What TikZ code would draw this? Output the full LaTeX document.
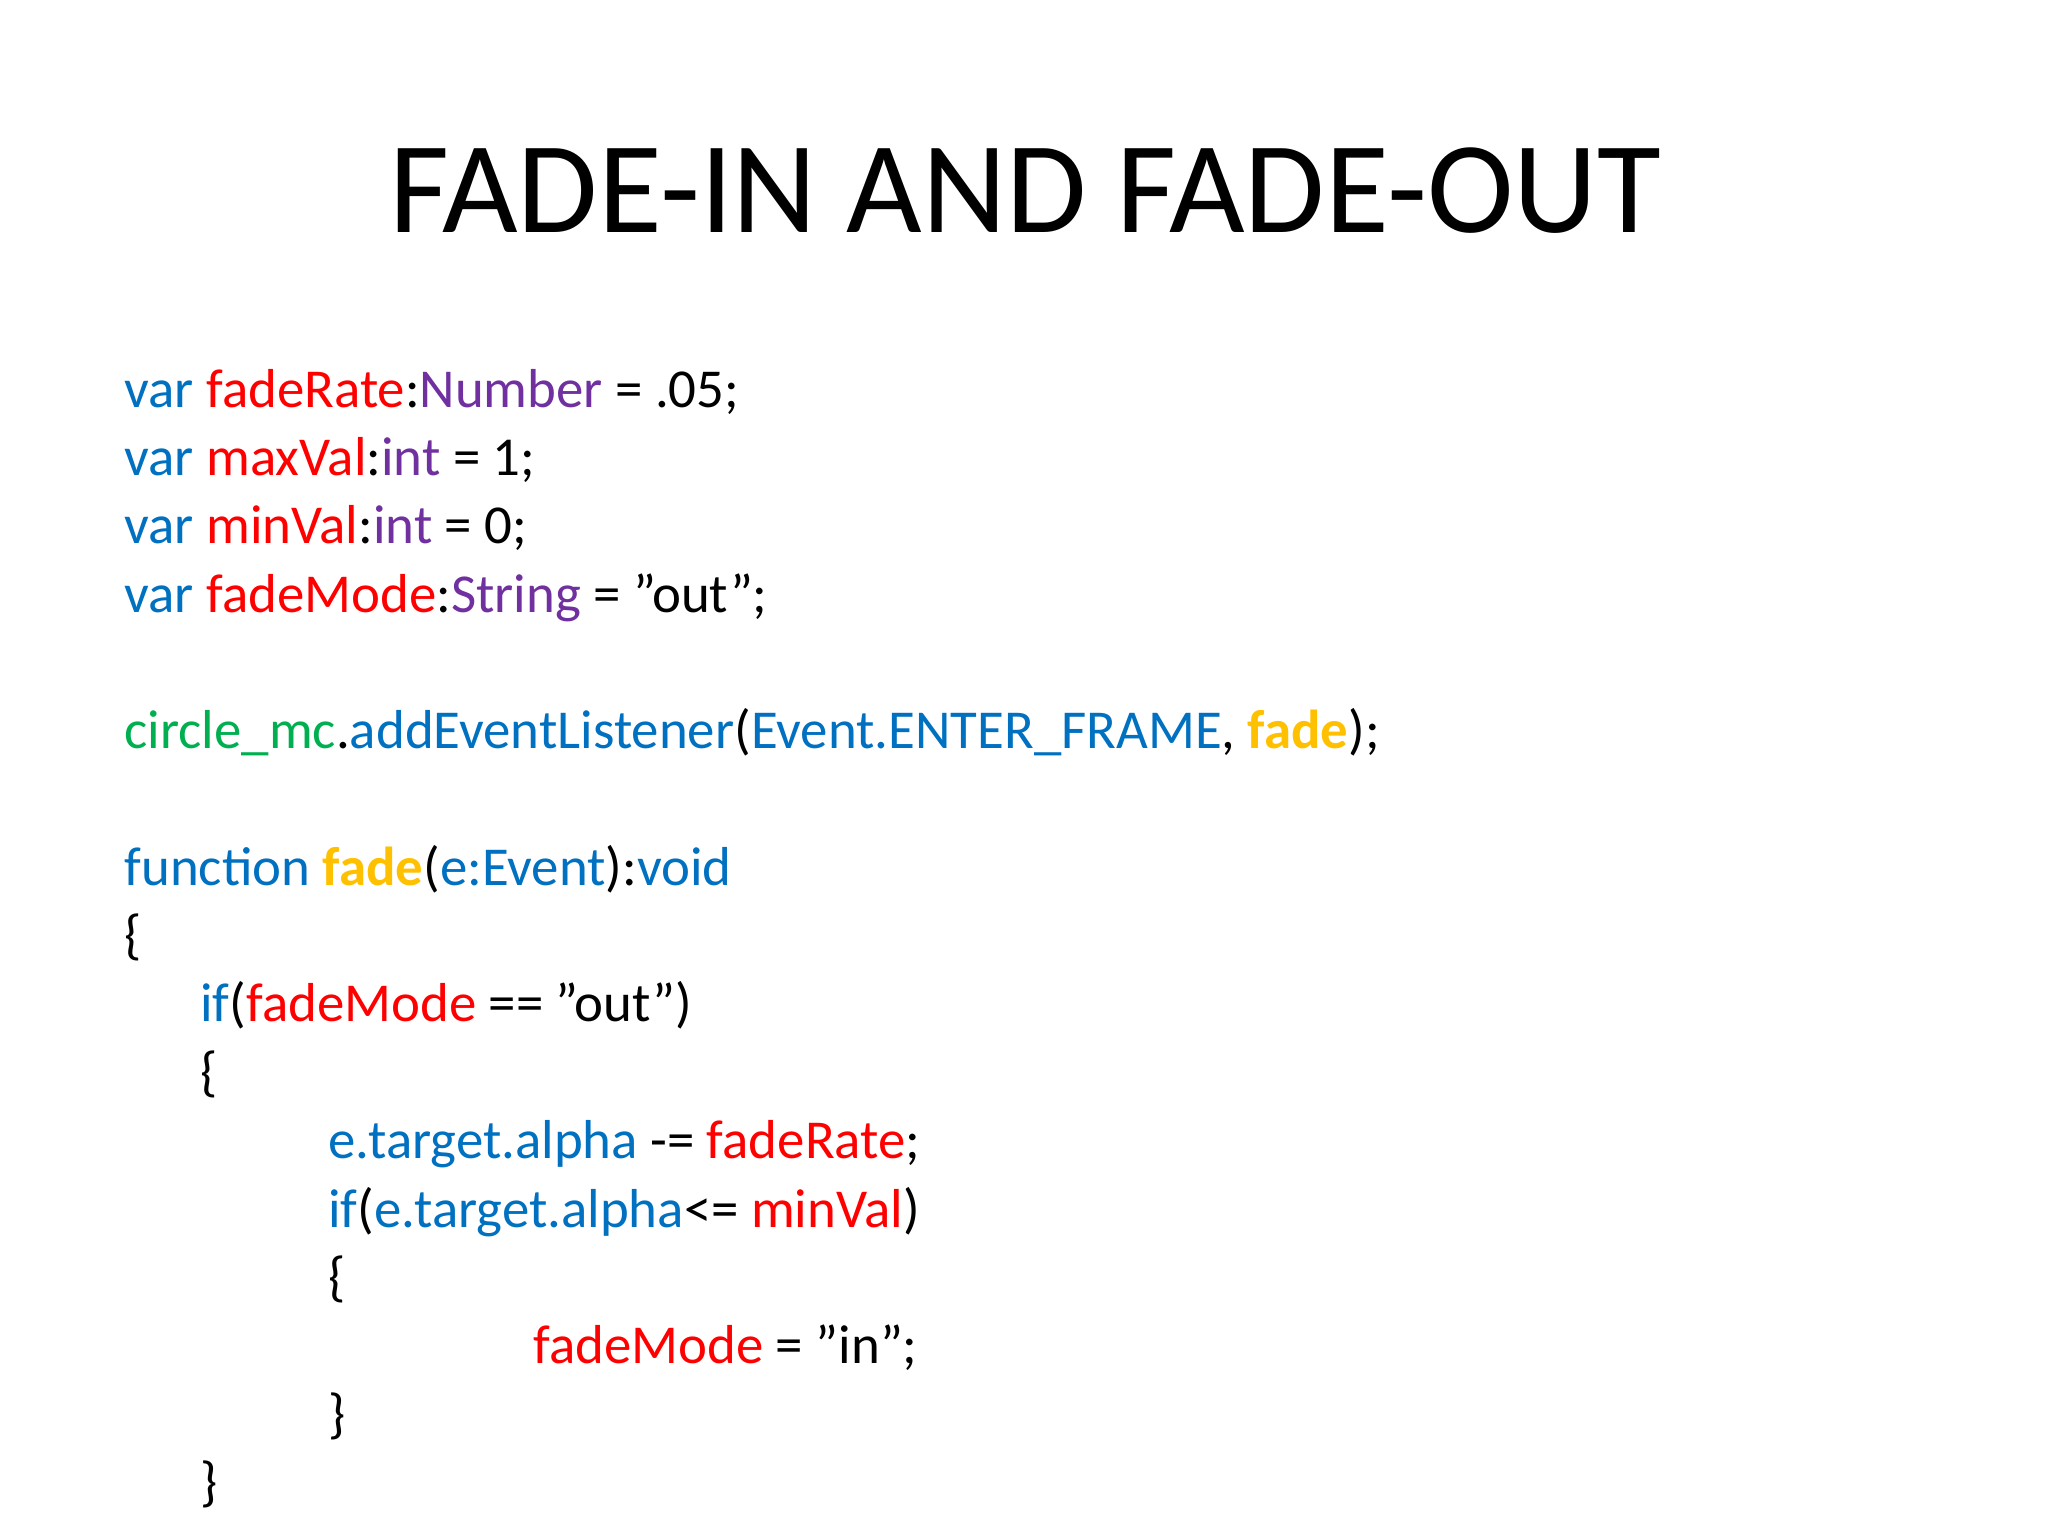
\documentclass[tikz,border=0pt]{standalone}
\usepackage{fontspec}
\setmainfont{Carlito}
\definecolor{kb}{RGB}{0,112,192}
\definecolor{kr}{RGB}{255,0,0}
\definecolor{kp}{RGB}{112,48,160}
\definecolor{kg}{RGB}{0,176,80}
\definecolor{ky}{RGB}{255,192,0}
\newcommand{\B}[1]{\textcolor{kb}{#1}}
\newcommand{\R}[1]{\textcolor{kr}{#1}}
\newcommand{\Pp}[1]{\textcolor{kp}{#1}}
\newcommand{\G}[1]{\textcolor{kg}{#1}}
\newcommand{\Y}[1]{\textcolor{ky}{\bfseries #1}}
\begin{document}
\begin{tikzpicture}[x=0.5pt,y=-0.5pt,
  code/.style={anchor=base west,inner sep=0pt,font=\fontsize{21}{25}\selectfont}]
\useasboundingbox (0,0) rectangle (1568,1176);
\node[anchor=base,inner sep=0pt,font=\fontsize{50}{60}\selectfont] (title) at (785,178) {FADE-IN AND FADE-OUT};
\node[code] (l1) at (95,312) {\B{var} \R{fadeRate}:\Pp{Number} = .05;};
\node[code] (l2) at (95,364) {\B{var} \R{maxVal}:\Pp{int} = 1;};
\node[code] (l3) at (95,416) {\B{var} \R{minVal}:\Pp{int} = 0;};
\node[code] (l4) at (95,469) {\B{var} \R{fadeMode}:\Pp{String} = "out";};
\node[code] (l5) at (95,573) {\G{circle\_mc}.\B{addEventListener}(\B{Event.ENTER\_FRAME}, \Y{fade});};
\node[code] (l6) at (95,678) {\B{function} \Y{fade}(\B{e:Event}):\B{void}};
\node[code] (l7) at (95,730) {\{};
\node[code] (l8) at (153,782) {\B{if}(\R{fadeMode} == "out")};
\node[code] (l9) at (153,835) {\{};
\node[code] (l10) at (251,887) {\B{e.target.alpha} -= \R{fadeRate};};
\node[code] (l11) at (251,940) {\B{if}(\B{e.target.alpha}<= \R{minVal})};
\node[code] (l12) at (251,992) {\{};
\node[code] (l13) at (408,1044) {\R{fadeMode} = "in";};
\node[code] (l14) at (251,1097) {\}};
\node[code] (l15) at (153,1149) {\}};
\end{tikzpicture}
\end{document}
